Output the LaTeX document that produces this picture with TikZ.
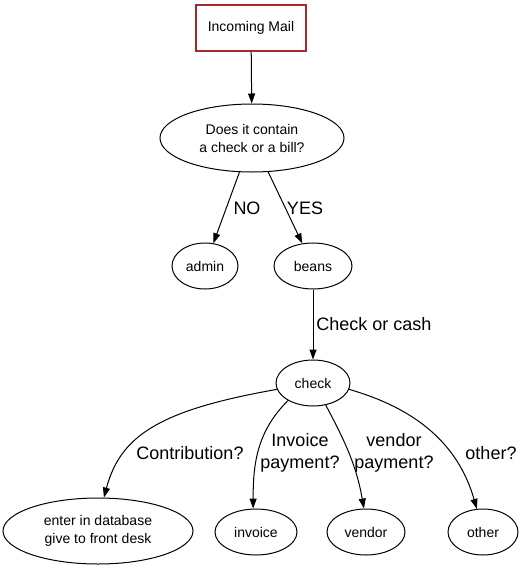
\documentclass[tikz,border=0pt]{standalone}
\usepackage{fontspec}
\setmainfont{Liberation Sans}
\usepackage{xcolor}
\usetikzlibrary{arrows.meta,shapes.geometric}
\definecolor{mailred}{HTML}{A52A2A}

\begin{document}
\begin{tikzpicture}[
    x=1pt, y=1pt,
    mailbox/.style={rectangle, draw=mailred, line width=2pt, minimum width=110pt, minimum height=46pt, font=\fontsize{14}{18}\selectfont},
    oval/.style={ellipse, draw, line width=1pt, inner sep=0pt, minimum height=46pt, align=center, font=\fontsize{14}{18}\selectfont},
    arrow/.style={-{Triangle[length=10pt,width=7pt]}, line width=1pt},
    label/.style={align=center, font=\fontsize{18}{22}\selectfont}
]
\useasboundingbox (0,0) rectangle (525,-573);

% Incoming mail
\node[mailbox] (mail) at (251,-28) {Incoming Mail};

% Question
\node[oval, minimum width=184pt, minimum height=68pt] (query) at (252,-138) {Does it contain\\a check or a bill?};

% First split
\node[oval, minimum width=66pt] (admin) at (205,-266) {admin};
\node[oval, minimum width=78pt] (beans) at (313,-266) {beans};
\node[label] (no) at (247,-208) {NO};
\node[label] (yes) at (305,-208) {YES};

% Check
\node[oval, minimum width=74pt] (check) at (313,-383) {check};
\node[label] (cash) at (374,-324) {Check or cash};

% Kinds of check
\node[oval, minimum width=190pt, minimum height=66pt] (database) at (98,-531) {enter in database\\give to front desk};
\node[oval, minimum width=82pt] (invoice) at (256,-532) {invoice};
\node[oval, minimum width=78pt] (vendor) at (366,-532) {vendor};
\node[oval, minimum width=70pt] (other) at (483,-532) {other};
\node[label] (contrib) at (190,-453) {Contribution?};
\node[label] (invpay) at (300,-453) {Invoice\\payment?};
\node[label] (venpay) at (394,-453) {vendor\\payment?};
\node[label] (otherq) at (491,-453) {other?};

% Arrows
\draw[arrow] (mail) -- (query);
\draw[arrow] (query) -- (admin);
\draw[arrow] (query) -- (beans);
\draw[arrow] (beans) -- (check);
\draw[arrow] (check.190) to[out=190, in=75, out looseness=1.5, in looseness=0.8] (database.80);
\draw[arrow] (check.215) to[out=225, in=90] (invoice.97);
\draw[arrow] (check.-60) to[out=-62, in=100] (vendor.95);
\draw[arrow] (check.-10) to[out=-16, in=106] (other.105);

\end{tikzpicture}
\end{document}
